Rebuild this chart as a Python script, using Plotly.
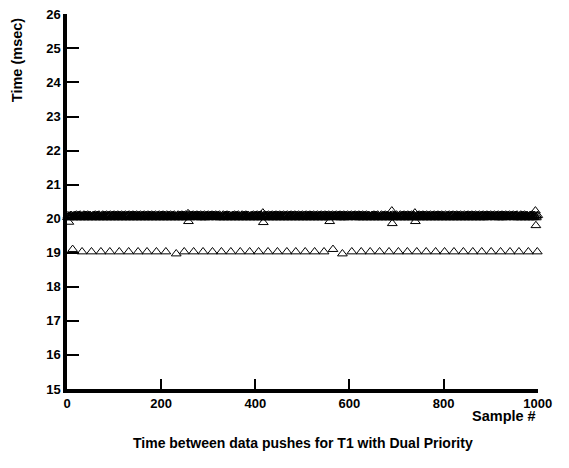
import plotly.graph_objects as go

# ---- data ----
samples = list(range(1, 1001))

# texture of the main band (values cycle through these levels, ms)
band_levels = [20.04, 20.09, 20.06, 20.11, 20.03, 20.08, 20.05, 20.10]

# visible outliers in the main band: sample -> ms
band_outliers = {4: 19.90, 170: 20.12, 257: 20.15, 258: 19.92, 416: 20.17,
                 417: 19.89, 558: 19.92, 690: 20.23, 691: 19.86, 739: 20.17,
                 740: 19.92, 995: 20.23, 996: 19.80}

# the lower row of short intervals (~19 ms)
low_samples = [12, 32, 52, 72, 91, 111, 131, 151, 170, 190, 210, 232, 249,
               269, 289, 309, 328, 348, 368, 388, 407, 427, 447, 467, 486,
               506, 526, 546, 565, 585, 605, 625, 644, 664, 684, 704, 723,
               743, 763, 783, 802, 822, 842, 862, 881, 901, 921, 941, 960,
               980, 999]
low_values = [19.10] + [19.03] * 10 + [18.97] + [19.03] * 16 + [19.10, 18.97] + [19.03] * 21

x_ticks = [0, 200, 400, 600, 800, 1000]
y_ticks = list(range(15, 27))

# ---- assemble ----
low_map = dict(zip(low_samples, low_values))
xs, ys = [], []
for i, s in enumerate(samples):
    if s in low_map:
        v = low_map[s]
    elif s in band_outliers:
        v = band_outliers[s]
    else:
        v = band_levels[i % len(band_levels)]
    xs.append(s)
    ys.append(v)

font_family = "Liberation Sans, Arial, sans-serif"

fig = go.Figure()
fig.add_trace(go.Scatter(
    x=xs, y=ys, mode="markers",
    marker=dict(symbol="triangle-up-open", size=8.5, color="black",
                line=dict(width=1, color="black")),
    showlegend=False, hoverinfo="skip", cliponaxis=False))

axis_common = dict(showline=True, linecolor="black", linewidth=3.5,
                   ticks="inside", tickcolor="black", tickwidth=2,
                   showgrid=False, zeroline=False, ticklabeloverflow="allow",
                   tickfont=dict(family=font_family, size=13, color="black"))

fig.update_xaxes(range=[0, 1000.5], tickvals=x_ticks,
                 ticktext=[f"<b>{v}</b>" for v in x_ticks], ticklen=10, **axis_common)
fig.update_yaxes(range=[14.999, 26.01], tickvals=y_ticks,
                 ticktext=[f"<b>{v}</b>" for v in y_ticks], ticklen=12, **axis_common)

fig.add_annotation(text="<b>Time (msec)</b>", xref="paper", yref="paper",
                   x=-0.106, y=0.877, textangle=-90, showarrow=False,
                   xanchor="center", yanchor="middle",
                   font=dict(family=font_family, size=14.5, color="black"))
fig.add_annotation(text="<b>Sample #</b>", xref="paper", yref="paper",
                   x=1.0, y=-0.072, showarrow=False,
                   xanchor="right", yanchor="middle",
                   font=dict(family=font_family, size=14.5, color="black"))
fig.add_annotation(text="<b>Time between data pushes for T1 with Dual Priority</b>",
                   xref="paper", yref="paper", x=0.5, y=-0.145,
                   showarrow=False, xanchor="center", yanchor="middle",
                   font=dict(family=font_family, size=14, color="black"))

fig.update_layout(width=569, height=468,
                  margin=dict(l=67, r=31, t=7, b=79),
                  plot_bgcolor="white", paper_bgcolor="white")

fig.write_html("out.html")
